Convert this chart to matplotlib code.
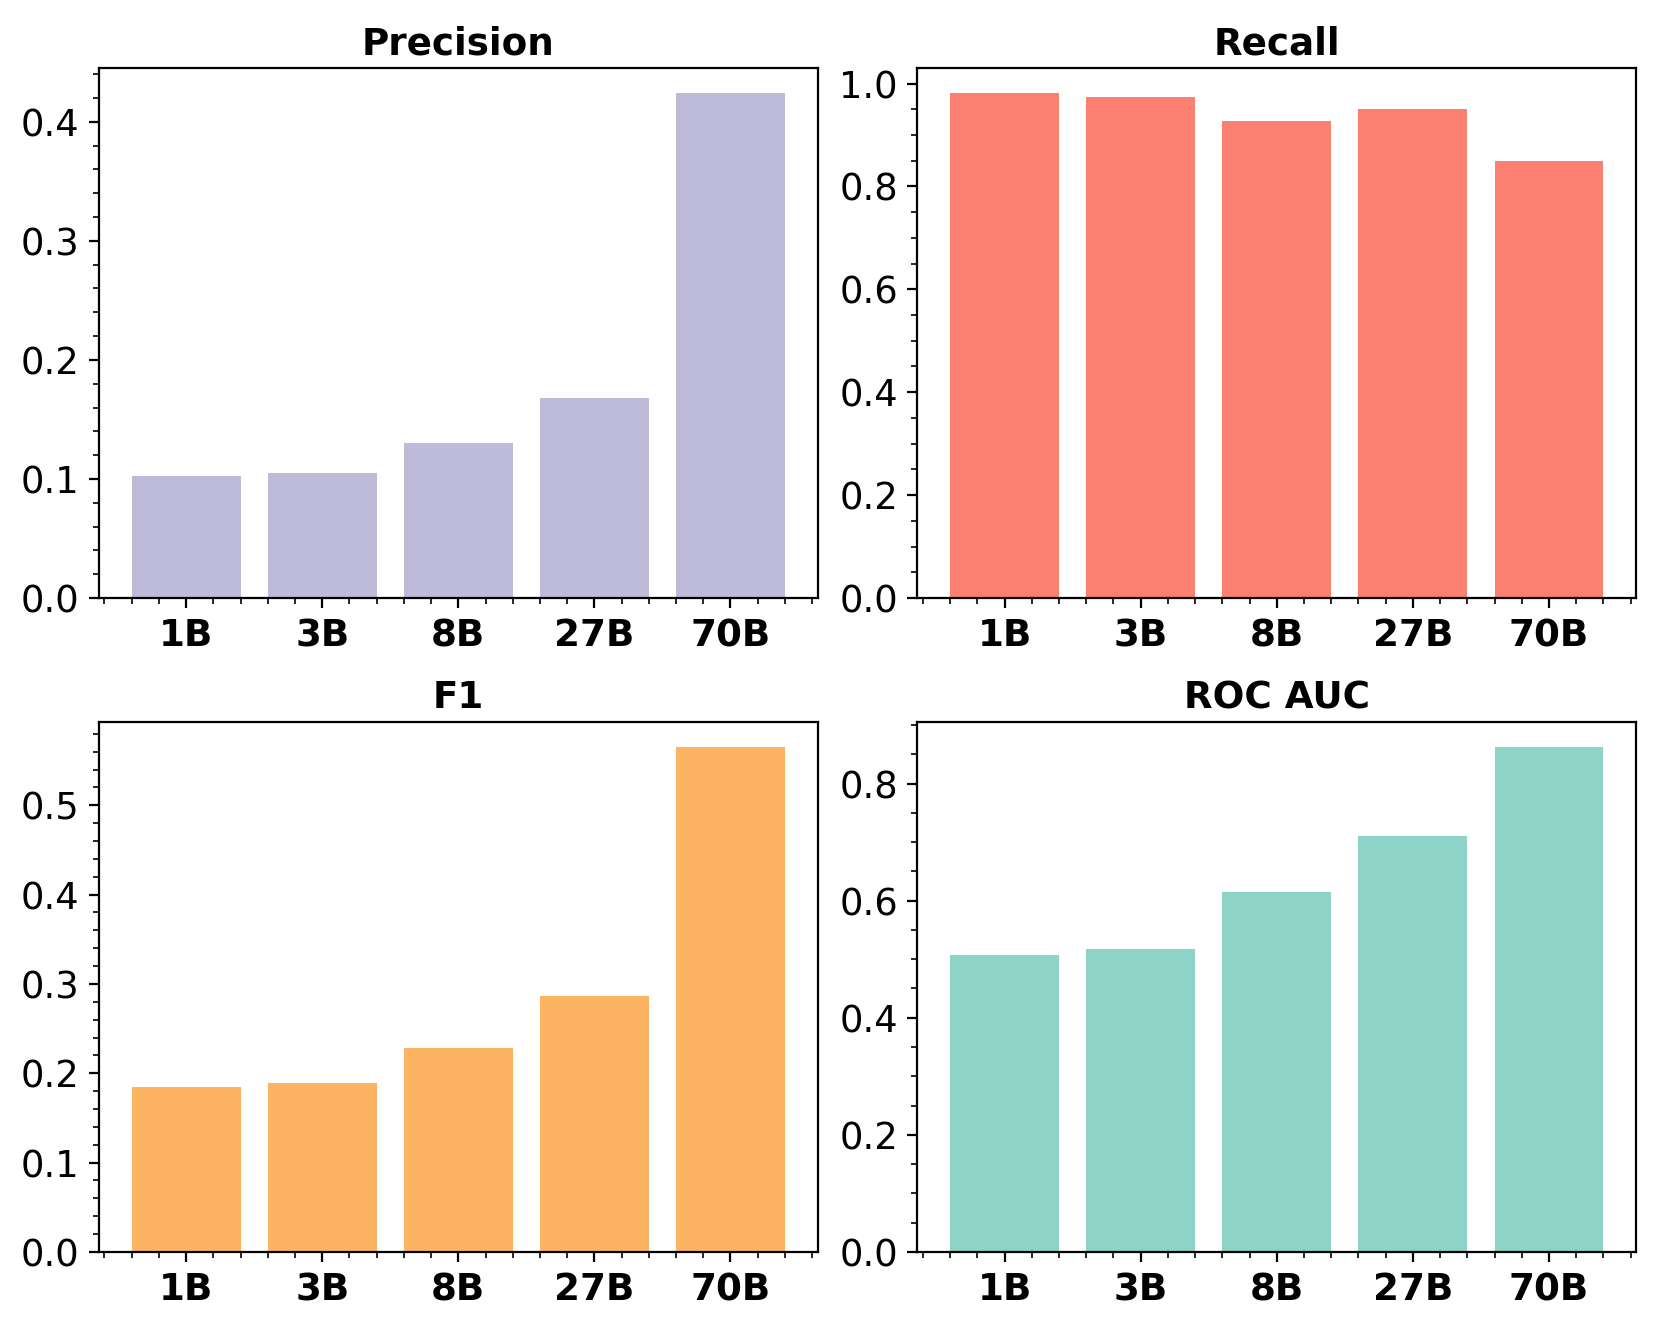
import matplotlib.pyplot as plt

models = ['1B', '3B', '8B', '27B', '70B']
precision = [0.1025, 0.105, 0.130, 0.168, 0.424]
recall = [0.981, 0.973, 0.928, 0.950, 0.849]
f1 = [0.185, 0.189, 0.228, 0.286, 0.565]
roc_auc = [0.507, 0.518, 0.615, 0.711, 0.862]

titles = ['Precision', 'Recall', 'F1', 'ROC AUC']
values = [precision, recall, f1, roc_auc]
colors = ['#bebada', '#fb8072', '#fdb462', '#8dd3c7']

fig, axes = plt.subplots(2, 2, figsize=(8.305, 6.645), dpi=200)
plt.subplots_adjust(left=0.0596, right=0.985, top=0.9488, bottom=0.058,
                    wspace=0.139, hspace=0.234)

for ax, title, vals, col in zip(axes.flat, titles, values, colors):
    ax.bar(range(len(models)), vals, width=0.8, color=col)
    ax.set_title(title, fontsize=13.4, fontweight='bold', pad=5)
    ax.set_xticks(range(len(models)))
    ax.set_xticklabels(models, fontsize=13.4, fontweight='bold')
    ax.tick_params(axis='y', labelsize=13.3)
    ax.minorticks_on()

fig.savefig('out.png', dpi=200)
